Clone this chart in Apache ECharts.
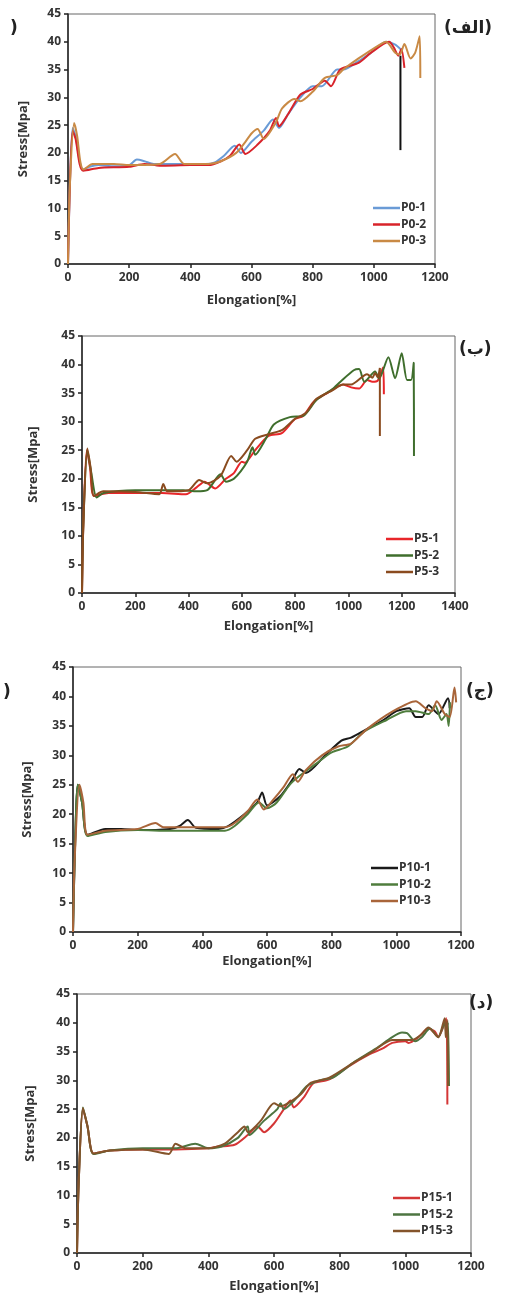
<!DOCTYPE html>
<html>
<head>
<meta charset="utf-8">
<script src="https://cdn.jsdelivr.net/npm/echarts@6/dist/echarts.min.js"></script>
<style>
html,body{margin:0;padding:0;background:#fff;}
#c{width:511px;height:1298px;}
</style>
</head>
<body>
<div id="c"></div>
<script>
// ---------- DATA ----------
const yTicks = [0,5,10,15,20,25,30,35,40,45];
const xMaxes = [1200, 1400, 1200, 1200];
const panelLabels = ['(الف)', '(ب)', '(ج)', '(د)'];
const seriesNames = [
  ['P0-1','P0-2','P0-3'],
  ['P5-1','P5-2','P5-3'],
  ['P10-1','P10-2','P10-3'],
  ['P15-1','P15-2','P15-3']
];

// Panel (الف) P0
const p0_1 = [[0,0],[5,12],[15,24.5],[25,23],[38,18.5],[50,17],[70,17.5],[100,17.8],[150,17.6],[200,17.8],[225,18.8],[250,18.5],[280,18],[350,18],[450,18],[480,18.3],[510,19.5],[545,21.3],[565,20],[600,22],[640,24],[670,26],[690,24.5],[720,27],[760,30],[800,32],[830,32],[880,35],[900,35],[950,36.5],[990,38],[1040,40],[1070,39.5],[1090,38.5]];
const p0_1break = [[1087,37.5],[1087,20.5]];
const p0_2 = [[0,0],[5,12],[15,24],[25,22.5],[38,18],[50,16.8],[100,17.3],[200,17.5],[250,18],[300,17.7],[400,17.8],[460,17.8],[500,18.5],[530,19.5],[560,21.5],[580,19.8],[620,21.5],[660,24],[680,26.3],[690,24.8],[720,27],[760,30.5],[800,31.5],[840,33],[860,32],[890,35],[950,36.2],[990,38],[1050,40],[1065,39],[1080,37.5],[1090,38.7],[1100,35.3]];
const p0_3 = [[0,0],[6,14],[20,25.4],[30,23],[40,18.5],[50,17],[80,18],[150,18],[200,17.8],[300,18],[350,19.8],[380,18],[460,18],[500,18.5],[550,20],[580,22],[600,23.5],[620,24.3],[640,22.5],[680,25.5],[700,28],[740,29.7],[760,29.3],[800,31],[840,33.5],[880,34],[900,35],[950,37],[1020,39.5],[1040,40],[1070,38],[1085,37.7],[1100,39.6],[1120,37],[1135,38],[1150,41],[1152,33.5]];

// Panel (ب) P5
const p5_1 = [[0,0],[5,12],[18,25],[30,22],[45,17],[100,17.5],[200,17.5],[300,17.5],[390,17.3],[430,18.5],[460,19.5],[500,18.3],[540,20],[570,21],[600,23],[610,22.8],[650,25],[700,27.5],[750,28],[800,30.5],[830,31],[870,33.5],[920,35],[980,36.5],[1010,36],[1040,35.8],[1070,37.3],[1090,37],[1110,37.2],[1130,39.5],[1133,34.8]];
const p5_2 = [[0,0],[5,12],[20,25],[35,21],[55,16.7],[80,17.5],[200,18],[380,18],[430,17.8],[470,18],[520,20.8],[540,19.5],[570,20],[620,23],[640,25.5],[650,24.2],[690,27],[720,29.5],[780,30.8],[830,31],[880,33.8],[940,35.7],[970,37],[1020,39],[1040,39.2],[1060,37],[1100,38.8],[1115,37.5],[1150,41.3],[1175,37.6],[1200,42],[1220,37.3],[1235,37.3],[1245,40.3],[1246,24]];
const p5_3 = [[0,0],[5,12],[20,25.3],[32,22],[45,17],[80,17.8],[200,17.7],[290,17.3],[305,19.1],[320,17.8],[400,18],[440,19.8],[470,19.2],[520,20.5],[560,24],[580,23],[620,25],[650,27],[700,27.8],[750,28.5],[800,30.5],[840,31.5],[880,34],[940,35.5],[980,36.5],[1010,36.5],[1070,38.3],[1090,37.7],[1100,38.5],[1110,37.8],[1118,39.4],[1118,27.5]];

// Panel (ج) P10
const p10_1 = [[0,0],[5,12],[15,25],[28,22],[45,16.5],[100,17.5],[150,17.5],[200,17.3],[300,17.5],[330,18],[355,19],[380,17.7],[450,17.5],[480,18],[530,20],[570,22],[585,23.7],[600,21.5],[640,23],[680,26],[700,27.7],[720,27],[780,30],[830,32.5],[860,33],[910,34.5],[960,36],[1000,37.5],[1040,38],[1060,36.5],[1080,36.5],[1100,38.5],[1130,37],[1160,39.7],[1165,38]];
const p10_2 = [[0,0],[5,12],[15,25],[28,22],[45,16.3],[100,17],[200,17.3],[300,17.2],[470,17.2],[500,18],[540,20],[575,22],[600,21],[630,22],[670,25],[700,26.5],[750,28.5],[800,30.5],[850,31.5],[900,34],[970,36],[1030,37.5],[1060,37.5],[1100,37],[1120,38.5],[1140,36],[1155,37],[1162,35],[1166,39]];
const p10_3 = [[0,0],[5,12],[20,25],[32,22],[45,16.5],[100,17.2],[200,17.5],[255,18.5],[280,17.8],[400,17.8],[470,17.8],[500,18.5],[540,20.5],[570,22.5],[590,20.8],[620,22.5],[650,24.5],[680,26.8],[695,25.5],[720,27.5],[770,30],[820,31.5],[860,32],[910,34.5],[990,37.5],[1060,39.2],[1090,38],[1110,37.5],[1125,39.2],[1150,37],[1165,36.5],[1180,41.5],[1185,39]];

// Panel (د) P15
const p15_1 = [[0,0],[5,12],[18,25],[32,22],[50,17.3],[100,17.8],[200,18],[300,18],[400,18.2],[430,18.5],[480,18.8],[520,20.5],[550,22],[570,21],[600,22.5],[630,25],[650,26.5],[660,25.3],[690,27],[720,29.5],[760,30],[780,30.5],[830,32.5],[890,34.5],[930,35.5],[960,36.5],[1000,36.8],[1010,36.5],[1040,37.5],[1070,39],[1090,38.5],[1100,37.5],[1125,40.8],[1128,25.8]];
const p15_2 = [[0,0],[5,12],[18,25.3],[32,22],[50,17.2],[100,17.8],[200,18.2],[300,18.2],[360,19],[400,18.2],[440,18.5],[490,20],[520,22],[525,20.5],[570,23],[610,25],[620,26],[630,25],[670,27],[700,29],[740,30],[780,30.5],[840,33],[910,35.5],[960,37.5],[990,38.3],[1005,38.2],[1030,36.8],[1050,37.5],[1075,39],[1100,37.5],[1120,40],[1125,38],[1130,40],[1133,29]];
const p15_3 = [[0,0],[5,12],[18,25.2],[32,22],[50,17.3],[100,17.8],[200,18],[280,17.2],[300,19],[330,18.2],[400,18.2],[450,19],[490,21],[510,22],[520,21],[560,23],[600,26],[620,25.5],[680,27.5],[710,29.5],[740,30],[770,30.5],[840,33],[900,35],[960,37],[1020,37],[1050,38],[1070,39.2],[1100,37.5],[1120,40.8],[1123,37.5],[1128,40.5],[1130,29]];

// ---------- LAYOUT / STYLE ----------
const panelData = [[p0_1,p0_2,p0_3],[p5_1,p5_2,p5_3],[p10_1,p10_2,p10_3],[p15_1,p15_2,p15_3]];
const colors = [
  ['#6a9bd6','#d8232a','#c98a45'],
  ['#e8262a','#3f6e2d','#8a4b1f'],
  ['#1a1a1a','#4f7d3d','#a9653a'],
  ['#d43636','#4d7541','#84542b']
];
const grids = [
  {left:68, right:76, top:14, height:250},
  {left:82, right:56, top:336, height:257},
  {left:73, right:50, top:667, height:265},
  {left:77, right:40, top:994, height:259}
];
const xNameGap = [30, 27, 23, 27];
const yNameGap = [38, 42, 39, 40];
const legendPos = [
  {left:373, top:202},
  {left:386, top:533},
  {left:371, top:862},
  {left:393, top:1192}
];
const labelPos = [[466,32],[481,353],[488,695],[491,1007]];

const font = 'Open Sans, Liberation Sans, sans-serif';
const plain = v => String(v);
const option = {
  animation:false,
  backgroundColor:'#fff',
  grid: grids.map(g => Object.assign({show:true, borderColor:'#666', borderWidth:1, containLabel:false}, g)),
  xAxis: grids.map((g,i) => ({
    gridIndex:i, type:'value', min:0, max:xMaxes[i], interval:200,
    name:'Elongation[%]', nameLocation:'middle', nameGap:xNameGap[i],
    nameTextStyle:{fontFamily:font, fontWeight:'bold', fontSize:13, color:'#333'},
    axisLine:{show:true, lineStyle:{color:'#222', width:1.5}},
    axisTick:{show:true, length:4, lineStyle:{color:'#222', width:1.5}},
    axisLabel:{fontFamily:font, fontWeight:'bold', fontSize:12, color:'#333', margin:8, formatter:plain},
    splitLine:{show:false}
  })),
  yAxis: grids.map((g,i) => ({
    gridIndex:i, type:'value', min:yTicks[0], max:yTicks[yTicks.length-1], interval:5,
    name:'Stress[Mpa]', nameLocation:'middle', nameGap:yNameGap[i], nameRotate:90,
    nameTextStyle:{fontFamily:font, fontWeight:'bold', fontSize:13, color:'#333'},
    axisLine:{show:true, lineStyle:{color:'#222', width:1.5}},
    axisTick:{show:true, length:4, lineStyle:{color:'#222', width:1.5}},
    axisLabel:{fontFamily:font, fontWeight:'bold', fontSize:12, color:'#333', margin:7, formatter:plain},
    splitLine:{show:false}
  })),
  legend: legendPos.map((p,i) => ({
    orient:'vertical', left:p.left, top:p.top, data:seriesNames[i],
    icon:'rect', itemWidth:27, itemHeight:2.5, itemGap:4.5,
    textStyle:{fontFamily:font, fontWeight:'bold', fontSize:12, color:'#333', padding:[0,0,0,-4]},
    padding:0, selectedMode:false
  })),
  series: [],
  graphic: []
};

panelData.forEach((arr, i) => {
  arr.forEach((d, j) => {
    option.series.push({
      type:'line', name:seriesNames[i][j], xAxisIndex:i, yAxisIndex:i,
      data:d, showSymbol:false, symbol:'none', smooth:0.25,
      lineStyle:{color:colors[i][j], width:2}, itemStyle:{color:colors[i][j]}
    });
  });
});
// black break line in panel (الف)
option.series.push({
  type:'line', name:'', xAxisIndex:0, yAxisIndex:0, data:p0_1break,
  showSymbol:false, symbol:'none', lineStyle:{color:'#111', width:2}
});

labelPos.forEach((p,i) => {
  option.graphic.push({
    type:'text', left:p[0]-22, top:p[1]-12,
    style:{text:panelLabels[i], font:'bold 17px "DejaVu Sans", sans-serif', fill:'#222'}
  });
});
// cropped parenthesis fragments at left edge
option.graphic.push({type:'text', left:10, top:20, style:{text:')', font:'bold 17px "DejaVu Sans", sans-serif', fill:'#222'}});
option.graphic.push({type:'text', left:3, top:684, style:{text:')', font:'bold 17px "DejaVu Sans", sans-serif', fill:'#222'}});

const chart = echarts.init(document.getElementById('c'), null, {renderer:'canvas'});
chart.setOption(option);
</script>
</body>
</html>
